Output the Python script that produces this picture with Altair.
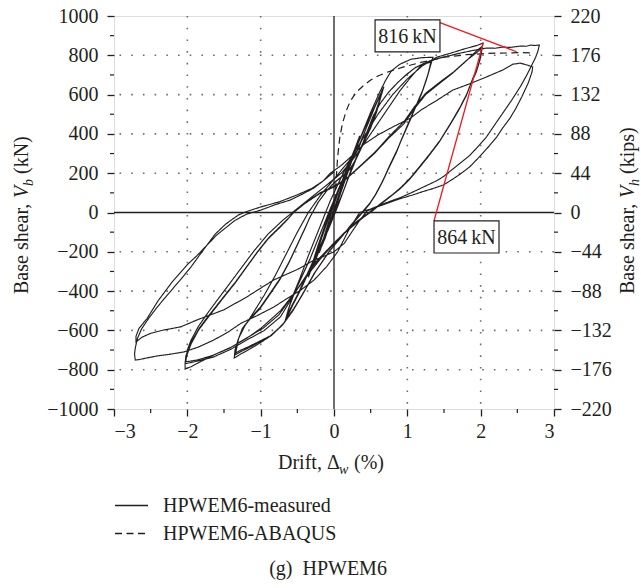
import altair as alt
import pandas as pd

# ---------------- data ----------------
x_ticks = [-3, -2, -1, 0, 1, 2, 3]
x_minor = [-2.5, -1.5, -0.5, 0.5, 1.5, 2.5]
y_ticks = [-1000, -800, -600, -400, -200, 0, 200, 400, 600, 800, 1000]
y_minor = [-900, -700, -500, -300, -100, 100, 300, 500, 700, 900]
kips_ticks = [-220, -176, -132, -88, -44, 0, 44, 88, 132, 176, 220]
grid_x = [-2, -1, 1, 2]
grid_y = [-800, -600, -400, -200, 200, 400, 600, 800]

# measured hysteresis, branch by branch (drift %, base shear kN)
pre_small = [(0.00, 0), (0.05, 60), (0.10, 120), (0.15, 180), (0.20, 245),
             (0.14, 170), (0.07, 80), (0.00, 0), (-0.07, -70), (-0.14, -140), (-0.20, -205),
             (-0.12, -120), (-0.05, -40), (0.03, 50), (0.10, 130), (0.20, 240),
             (0.12, 150), (0.03, 40), (-0.05, -50), (-0.12, -130), (-0.20, -200)]
amp035 = [(-0.10, -80), (0.00, 40), (0.10, 150), (0.20, 250), (0.28, 320), (0.35, 390),
          (0.28, 310), (0.18, 200), (0.08, 90), (0.00, 0), (-0.10, -100), (-0.20, -190), (-0.28, -260), (-0.35, -330),
          (-0.25, -220), (-0.15, -110), (0.00, 50), (0.12, 170), (0.25, 290), (0.35, 385),
          (0.25, 270), (0.12, 130), (0.00, 0), (-0.12, -120), (-0.25, -240), (-0.35, -325)]
amp067 = [(-0.22, -170), (-0.08, -20), (0.05, 110), (0.20, 240), (0.35, 370), (0.48, 480), (0.58, 560), (0.68, 640),
          (0.64, 590), (0.58, 510), (0.50, 430), (0.40, 350), (0.30, 270), (0.18, 160), (0.05, 30), (-0.08, -90),
          (-0.20, -180), (-0.33, -290), (-0.45, -390), (-0.56, -470), (-0.67, -557),
          (-0.62, -490), (-0.53, -400), (-0.43, -320), (-0.33, -240), (-0.20, -120), (-0.05, 20), (0.10, 150),
          (0.22, 250), (0.32, 320), (0.44, 430), (0.55, 530), (0.66, 625),
          (0.62, 570), (0.55, 490), (0.46, 400), (0.36, 320), (0.26, 240), (0.14, 120), (0.00, -10), (-0.12, -120),
          (-0.25, -220), (-0.36, -310), (-0.48, -410), (-0.58, -480), (-0.66, -545),
          (-0.61, -480), (-0.52, -390), (-0.42, -310), (-0.32, -230), (-0.18, -100), (-0.03, 30), (0.12, 160),
          (0.24, 260), (0.34, 330), (0.45, 440), (0.56, 540), (0.65, 612),
          (0.61, 560), (0.53, 470), (0.44, 390), (0.34, 310), (0.24, 225), (0.12, 100), (-0.02, -20), (-0.14, -130),
          (-0.27, -235), (-0.38, -325), (-0.50, -420), (-0.59, -485), (-0.65, -538)]
amp135 = [(-0.58, -440), (-0.47, -340), (-0.35, -220), (-0.20, -80), (-0.05, 60), (0.10, 180), (0.25, 290),
          (0.38, 400), (0.50, 510), (0.62, 610), (0.70, 670), (0.78, 720), (0.90, 755), (1.05, 780), (1.20, 788), (1.35, 790),
          (1.31, 740), (1.27, 690), (1.21, 623), (1.12, 545), (1.04, 471), (0.95, 395), (0.86, 318), (0.76, 240),
          (0.67, 165), (0.58, 100), (0.49, 48), (0.38, 0), (0.25, -55), (0.10, -125), (-0.05, -191), (-0.25, -300),
          (-0.42, -411), (-0.55, -490), (-0.69, -565), (-0.85, -625), (-1.01, -664), (-1.15, -695), (-1.27, -720), (-1.36, -740),
          (-1.35, -700), (-1.31, -650), (-1.25, -590), (-1.15, -545), (-1.01, -490), (-0.88, -420), (-0.74, -343),
          (-0.62, -260), (-0.50, -165), (-0.40, -85), (-0.33, -25), (-0.22, 50), (-0.10, 110), (0.00, 150), (0.12, 185),
          (0.22, 220), (0.30, 270), (0.38, 340), (0.45, 410), (0.53, 487), (0.62, 550), (0.74, 610), (0.86, 658),
          (0.98, 700), (1.10, 735), (1.22, 758), (1.33, 775),
          (1.30, 725), (1.26, 675), (1.20, 610), (1.11, 535), (1.02, 460), (0.93, 380), (0.85, 305), (0.75, 228),
          (0.66, 155), (0.57, 92), (0.48, 40), (0.37, -8), (0.24, -62), (0.09, -130), (-0.06, -196), (-0.26, -305),
          (-0.43, -418), (-0.56, -500), (-0.70, -572), (-0.86, -628), (-1.02, -660), (-1.16, -688), (-1.27, -708), (-1.35, -725),
          (-1.34, -690), (-1.30, -640), (-1.24, -585), (-1.14, -538), (-1.00, -480), (-0.87, -410), (-0.73, -333),
          (-0.61, -250), (-0.49, -155), (-0.39, -75), (-0.32, -18), (-0.21, 55), (-0.09, 115), (0.01, 155), (0.13, 190),
          (0.23, 228), (0.31, 280), (0.39, 350), (0.46, 420), (0.54, 495), (0.63, 555), (0.75, 615), (0.87, 662),
          (0.99, 702), (1.11, 738), (1.22, 755), (1.32, 765),
          (1.29, 715), (1.25, 665), (1.19, 600), (1.10, 525), (1.01, 450), (0.92, 372), (0.84, 298), (0.74, 222),
          (0.65, 150), (0.56, 88), (0.47, 36), (0.36, -12), (0.23, -66), (0.08, -134), (-0.07, -200), (-0.27, -310),
          (-0.44, -422), (-0.57, -505), (-0.71, -575), (-0.87, -628), (-1.03, -658), (-1.17, -684), (-1.27, -700), (-1.34, -715)]
amp203 = [(-1.30, -640), (-1.22, -580), (-1.10, -510), (-0.95, -420), (-0.80, -320), (-0.65, -210), (-0.50, -100),
          (-0.35, 0), (-0.18, 90), (0.00, 170), (0.20, 260), (0.40, 380), (0.60, 500), (0.80, 600), (1.00, 680),
          (1.20, 745), (1.40, 790), (1.60, 812), (1.80, 835), (1.95, 850), (2.03, 862),
          (2.00, 790), (1.95, 730), (1.90, 690), (1.82, 610), (1.72, 537), (1.60, 460), (1.45, 369), (1.30, 295),
          (1.17, 235), (1.05, 180), (0.92, 130), (0.80, 92), (0.67, 55), (0.55, 20), (0.42, -15), (0.28, -55),
          (0.12, -110), (0.00, -160), (-0.15, -220), (-0.30, -290), (-0.50, -390), (-0.73, -500), (-1.00, -590),
          (-1.19, -640), (-1.40, -685), (-1.64, -725), (-1.85, -765), (-1.95, -785), (-2.03, -797),
          (-2.03, -760), (-2.00, -720), (-1.95, -670), (-1.85, -600), (-1.75, -550), (-1.64, -497), (-1.50, -430),
          (-1.35, -360), (-1.19, -277), (-1.05, -205), (-0.90, -135), (-0.73, -73), (-0.62, -30), (-0.55, 0),
          (-0.40, 45), (-0.20, 95), (0.00, 130), (0.15, 165), (0.35, 232), (0.55, 300), (0.75, 380), (0.95, 450),
          (1.10, 530), (1.25, 600), (1.45, 660), (1.62, 710), (1.80, 770), (1.95, 825), (2.02, 845),
          (1.99, 775), (1.94, 715), (1.89, 680), (1.81, 600), (1.71, 528), (1.59, 452), (1.44, 362), (1.29, 288),
          (1.16, 228), (1.04, 174), (0.91, 125), (0.79, 88), (0.66, 50), (0.54, 15), (0.41, -20), (0.27, -62),
          (0.14, -105), (0.00, -155), (-0.27, -260), (-0.50, -390), (-0.73, -531), (-0.95, -600), (-1.19, -649),
          (-1.40, -695), (-1.64, -735), (-1.85, -755), (-2.03, -770),
          (-2.02, -730), (-1.99, -700), (-1.94, -655), (-1.84, -590), (-1.74, -540), (-1.63, -488), (-1.49, -422),
          (-1.34, -352), (-1.18, -270), (-1.04, -198), (-0.89, -128), (-0.72, -66), (-0.61, -25), (-0.54, 5),
          (-0.39, 50), (-0.19, 100), (0.01, 136), (0.16, 170), (0.36, 238), (0.56, 308), (0.76, 390), (0.96, 465),
          (1.10, 540), (1.26, 610), (1.46, 668), (1.63, 715), (1.81, 775), (1.95, 815), (2.01, 835),
          (1.98, 765), (1.93, 705), (1.88, 670), (1.80, 592), (1.70, 520), (1.58, 445), (1.43, 356), (1.28, 282),
          (1.15, 222), (1.03, 168), (0.90, 120), (0.78, 84), (0.65, 46), (0.53, 10), (0.40, -25), (0.26, -68),
          (0.13, -110), (-0.01, -160), (-0.28, -270), (-0.52, -400), (-0.75, -520), (-0.97, -590), (-1.20, -640),
          (-1.42, -690), (-1.66, -728), (-1.86, -750), (-2.02, -760)]
amp27 = [(-2.00, -700), (-1.95, -650), (-1.85, -580), (-1.70, -500), (-1.50, -400), (-1.30, -300), (-1.10, -200),
         (-0.90, -110), (-0.70, -40), (-0.50, 20), (-0.30, 80), (-0.10, 140), (0.10, 200), (0.30, 290), (0.50, 400),
         (0.70, 510), (0.90, 620), (1.05, 690), (1.17, 741), (1.30, 770), (1.45, 787), (1.60, 800), (1.72, 811),
         (1.90, 825), (2.08, 837), (2.20, 836), (2.30, 842), (2.40, 840), (2.54, 847), (2.62, 846), (2.68, 852),
         (2.74, 850), (2.80, 852),
         (2.78, 820), (2.75, 790), (2.71, 760), (2.63, 700), (2.54, 640), (2.42, 570), (2.30, 505), (2.18, 440),
         (2.08, 385), (1.95, 330), (1.85, 290), (1.72, 251), (1.60, 215), (1.49, 182), (1.38, 158), (1.25, 135),
         (1.08, 105), (0.90, 75), (0.75, 55), (0.63, 38), (0.50, 18), (0.35, 0), (0.20, -90), (0.05, -200),
         (-0.10, -275), (-0.27, -343), (-0.45, -394), (-0.65, -440), (-0.82, -481), (-1.05, -525), (-1.27, -564),
         (-1.45, -610), (-1.64, -649), (-1.85, -685), (-2.05, -710), (-2.25, -722), (-2.41, -730), (-2.55, -740),
         (-2.65, -748), (-2.71, -751),
         (-2.72, -720), (-2.71, -690), (-2.68, -640), (-2.62, -590), (-2.52, -535), (-2.41, -481), (-2.25, -410),
         (-2.10, -345), (-1.95, -277), (-1.80, -200), (-1.62, -110), (-1.48, -60), (-1.40, -38), (-1.30, -12),
         (-1.19, 5), (-1.00, 28), (-0.74, 55), (-0.50, 90), (-0.30, 123), (-0.15, 160), (-0.05, 200), (0.10, 240),
         (0.25, 290), (0.40, 345), (0.60, 395), (0.80, 435), (1.04, 480), (1.20, 525), (1.40, 570), (1.62, 623),
         (1.85, 655), (2.08, 690), (2.30, 725), (2.44, 755), (2.54, 760), (2.62, 752), (2.71, 741),
         (2.70, 715), (2.65, 660), (2.56, 588), (2.48, 530), (2.40, 480), (2.30, 430), (2.22, 385), (2.12, 340),
         (2.00, 290), (1.85, 232), (1.72, 195), (1.60, 165), (1.49, 140), (1.35, 122), (1.20, 105), (1.08, 90),
         (0.90, 70), (0.75, 50), (0.60, 30), (0.45, 8), (0.35, -40), (0.25, -95), (0.14, -157), (0.00, -200),
         (-0.15, -225), (-0.27, -242), (-0.50, -290), (-0.82, -343), (-1.00, -385), (-1.19, -430), (-1.50, -495),
         (-1.87, -547), (-2.09, -582), (-2.32, -598), (-2.50, -615), (-2.62, -635), (-2.70, -659),
         (-2.70, -630), (-2.66, -590), (-2.55, -540), (-2.40, -450), (-2.20, -350), (-2.00, -265), (-1.87, -220),
         (-1.60, -115), (-1.35, -40), (-1.19, -8), (-1.00, 12), (-0.80, 40), (-0.60, 63), (-0.45, 90),
         (-0.28, 123), (-0.15, 160), (0.00, 206)]

abaqus = [(0.00, 0), (0.02, 110), (0.035, 200), (0.05, 283), (0.08, 386), (0.12, 460), (0.17, 520), (0.22, 565),
          (0.30, 610), (0.40, 645), (0.49, 672), (0.60, 695), (0.72, 713), (0.94, 740), (1.20, 765), (1.50, 790),
          (1.80, 803), (2.10, 810), (2.40, 812), (2.55, 814), (2.73, 812)]

# annotations (peak callouts)
callout_text = ["816\u2009kN", "864\u2009kN"]
callout_box_x = [0.56, 1.364]
callout_box_x2 = [1.445, 2.25]
callout_box_y = [980, -43]
callout_box_y2 = [817, -206]
leader_from = [(1.445, 966), (1.364, -42)]
leader_to = [(2.49, 818), (2.036, 864)]

SERIES = ["HPWEM6-measured", "HPWEM6-ABAQUS"]

# ---------------- tables ----------------
rows = []
k = 0
for br in [pre_small, amp035, amp067, amp135, amp203, amp27]:
    for (dx, vy) in br:
        rows.append({"drift": dx, "shear": vy, "order": k, "series": SERIES[0]})
        k += 1
meas_df = pd.DataFrame(rows)
aba_df = pd.DataFrame([{"drift": dx, "shear": vy, "order": i, "series": SERIES[1]}
                       for i, (dx, vy) in enumerate(abaqus)])
box_df = pd.DataFrame({"t": callout_text, "drift": callout_box_x, "x2": callout_box_x2,
                       "shear": callout_box_y, "y2": callout_box_y2,
                       "xm": [(a + b) / 2 for a, b in zip(callout_box_x, callout_box_x2)],
                       "ym": [(a + b) / 2 for a, b in zip(callout_box_y, callout_box_y2)]})
lead_df = pd.DataFrame({"drift": [a[0] for a in leader_from], "shear": [a[1] for a in leader_from],
                        "x2": [b[0] for b in leader_to], "y2": [b[1] for b in leader_to]})

FONT = "Liberation Serif"
INK = "#231f20"
FS = 20
W, H = 440, 393

xs = alt.Scale(domain=[-3, 3], nice=False, zero=False)
ys = alt.Scale(domain=[-1000, 1000], nice=False, zero=False)

x_axis = alt.Axis(values=x_ticks, title=None, grid=False, domain=False, tickSize=7, tickWidth=1.3, format="d",
                  tickColor=INK, labelFont=FONT, labelFontSize=FS, labelColor=INK, labelPadding=5)
y_axis = alt.Axis(values=y_ticks, title=None, grid=False, domain=False, tickSize=7, tickWidth=1.3, format="d",
                  tickColor=INK, labelFont=FONT, labelFontSize=FS, labelColor=INK, labelPadding=9)


def X(field):
    return alt.X(field, scale=xs, axis=x_axis)


def Y(field):
    return alt.Y(field, scale=ys, axis=y_axis)


# grid
gx = alt.Chart(pd.DataFrame({"drift": grid_x})).mark_rule(
    stroke="#6d6d6d", strokeWidth=1.6, strokeDash=[1.6, 10.1]).encode(x=X("drift:Q"))
gy = alt.Chart(pd.DataFrame({"shear": grid_y})).mark_rule(
    stroke="#6d6d6d", strokeWidth=1.6, strokeDash=[1.6, 10.1]).encode(y=Y("shear:Q"))
zx = alt.Chart(pd.DataFrame({"drift": [0]})).mark_rule(stroke=INK, strokeWidth=1.3).encode(x=X("drift:Q"))
zy = alt.Chart(pd.DataFrame({"shear": [0]})).mark_rule(stroke=INK, strokeWidth=1.3).encode(y=Y("shear:Q"))

# minor ticks
mL = alt.Chart(pd.DataFrame({"shear": y_minor})).mark_rule(stroke=INK, strokeWidth=1.2).encode(
    y=Y("shear:Q"), x=alt.value(-4), x2=alt.value(0))
mR = alt.Chart(pd.DataFrame({"shear": y_minor})).mark_rule(stroke=INK, strokeWidth=1.2).encode(
    y=Y("shear:Q"), x=alt.value(W), x2=alt.value(W + 4))
mB = alt.Chart(pd.DataFrame({"drift": x_minor})).mark_rule(stroke=INK, strokeWidth=1.2).encode(
    x=X("drift:Q"), y=alt.value(H), y2=alt.value(H + 4))

dash_scale = alt.Scale(domain=SERIES, range=[[1, 0], [7, 4.5]])
legend = alt.Legend(title=None, orient="none", legendX=0, legendY=472, symbolType="stroke",
                    symbolSize=1089, symbolStrokeWidth=1.3, symbolStrokeColor=INK,
                    labelFont=FONT, labelFontSize=FS, labelColor=INK, labelOffset=14, labelLimit=0,
                    rowPadding=-7, padding=0)

aba = alt.Chart(aba_df).mark_line(stroke=INK, strokeWidth=1.2).encode(
    x=X("drift:Q"), y=Y("shear:Q"),
    order="order:Q", strokeDash=alt.StrokeDash("series:N", scale=dash_scale, legend=legend))
meas = alt.Chart(meas_df).mark_line(stroke=INK, strokeWidth=1.15).encode(
    x=X("drift:Q"), y=Y("shear:Q"),
    order="order:Q", strokeDash=alt.StrokeDash("series:N", scale=dash_scale, legend=legend))

leads = alt.Chart(lead_df).mark_rule(stroke="#ed1c24", strokeWidth=1.3).encode(
    x=X("drift:Q"), y=Y("shear:Q"), x2="x2:Q", y2="y2:Q")
boxes = alt.Chart(box_df).mark_rect(fill="white", stroke=INK, strokeWidth=1.2).encode(
    x=X("drift:Q"), x2="x2:Q", y=Y("shear:Q"), y2="y2:Q")
box_txt = alt.Chart(box_df).mark_text(font=FONT, fontSize=FS, color=INK, baseline="middle", dy=1).encode(
    x=X("xm:Q"), y=Y("ym:Q"), text="t:N")


# -------- composed titles (with subscripts) --------
def piece(t, x, y, size=FS, italic=False, angle=0, align="left"):
    return alt.Chart(pd.DataFrame({"t": [t]})).mark_text(
        font=FONT, fontSize=size, fontStyle="italic" if italic else "normal", color=INK,
        angle=angle, align=align, baseline="alphabetic").encode(
        text="t:N", x=alt.value(x), y=alt.value(y))


LX = -86
lb = 278
left_title = [
    piece("Base shear,", LX, lb, angle=270),
    piece("V", LX, lb - 96, italic=True, angle=270),
    piece("b", LX + 5, lb - 108, size=14, italic=True, angle=270),
    piece("(kN)", LX, lb - 120, angle=270),
]
RX = 520
rb = 278
right_title = [
    piece("Base shear,", RX, rb, angle=270),
    piece("V", RX, rb - 96, italic=True, angle=270),
    piece("h", RX + 5, rb - 108, size=14, italic=True, angle=270),
    piece("(kips)", RX, rb - 120, angle=270),
]
TX = 164
TY = 453
x_title = [
    piece("Drift,", TX, TY),
    piece("\u0394", TX + 49, TY),
    piece("w", TX + 61, TY + 5, size=14, italic=True),
    piece("(%)", TX + 76, TY),
]
caption = piece("(g)\u2002HPWEM6", 214, 559, align="center")

inner = alt.layer(gx, gy, zx, zy, mL, mR, mB, aba, meas, leads, boxes, box_txt,
                  *left_title, *right_title, *x_title, caption)

kips = alt.Chart(pd.DataFrame({"kips": [-220, 220]})).mark_rule(opacity=0).encode(
    y=alt.Y("kips:Q", scale=alt.Scale(domain=[-220, 220], nice=False, zero=False),
            axis=alt.Axis(orient="right", values=kips_ticks, title=None, grid=False, domain=False,
                          tickSize=7, tickWidth=1.3, tickColor=INK, labelFont=FONT, format="d",
                          labelFontSize=FS, labelColor=INK, labelPadding=9)))

chart = alt.layer(inner, kips).resolve_scale(y="independent").properties(
    width=W, height=H,
    autosize=alt.AutoSizeParams(type="none"),
    padding={"left": 114, "top": 16, "right": 87, "bottom": 179},
).configure_view(stroke=INK, strokeWidth=1.3).configure(background="white")

chart.save("out.html", embed_options={"renderer": "svg", "actions": False})
